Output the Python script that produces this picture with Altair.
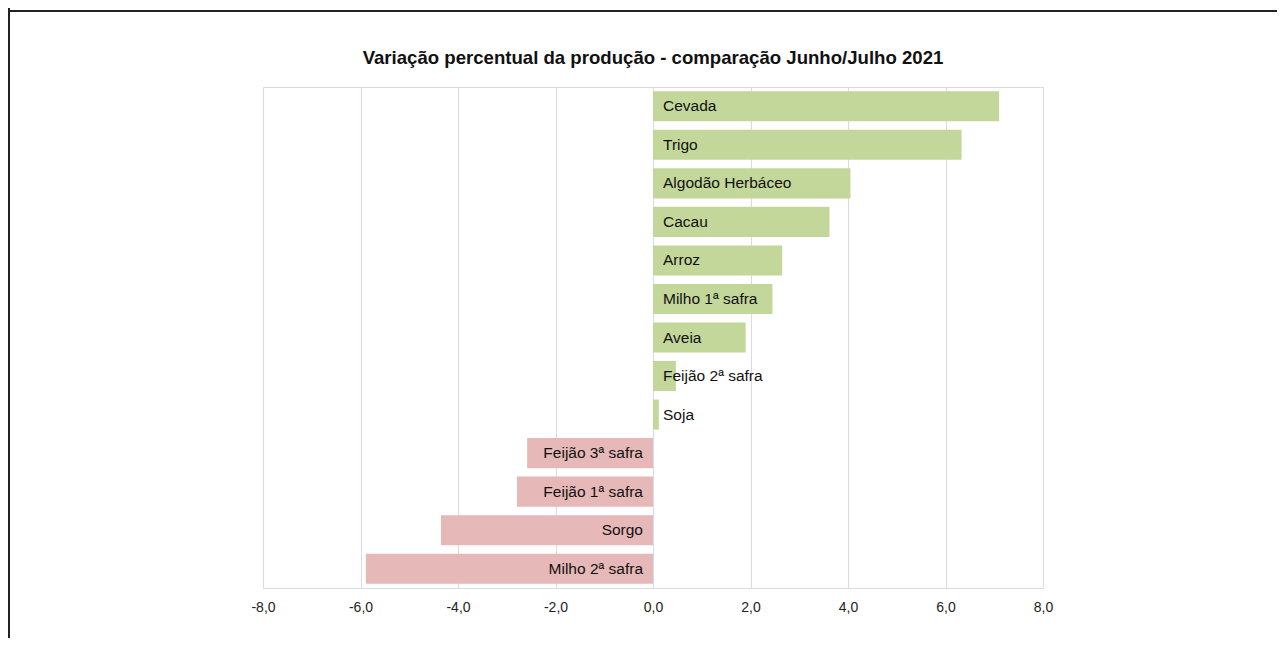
import altair as alt
import pandas as pd

categories = ["Cevada", "Trigo", "Algodão Herbáceo", "Cacau", "Arroz", "Milho 1ª safra",
              "Aveia", "Feijão 2ª safra", "Soja", "Feijão 3ª safra", "Feijão 1ª safra",
              "Sorgo", "Milho 2ª safra"]
values = [7.10, 6.33, 4.05, 3.62, 2.65, 2.45, 1.90, 0.47, 0.12, -2.58, -2.79, -4.35, -5.89]
tick_values = [-8, -6, -4, -2, 0, 2, 4, 6, 8]
title_text = "Variação percentual da produção - comparação Junho/Julho 2021"

df = pd.DataFrame({"cat": categories, "val": values})
df["sign"] = ["pos" if v >= 0 else "neg" for v in values]

FONT = "Liberation Sans"

x_scale = alt.Scale(domain=[-8, 8], nice=False)
y_enc = alt.Y("cat:N", sort=categories, axis=None,
              scale=alt.Scale(paddingInner=0.22, paddingOuter=0.11))

bars = alt.Chart(df).mark_bar().encode(
    x=alt.X("val:Q", scale=x_scale,
            axis=alt.Axis(values=tick_values, title=None, ticks=False, domain=False,
                          labelExpr="replace(replace(format(datum.value, '.1f'), '.', ','), '\u2212', '-')",
                          labelFont=FONT, labelFontSize=14, labelColor="#222",
                          labelFlush=False, labelPadding=12, grid=True, gridColor="#d8d8ee")),
    y=y_enc,
    color=alt.Color("sign:N", scale=alt.Scale(domain=["pos", "neg"],
                                               range=["#c4d79b", "#e6b8b7"]), legend=None),
)

pos_text = alt.Chart(df).transform_filter("datum.val >= 0").transform_calculate(zero="0").mark_text(
    align="left", baseline="middle", dx=10, font=FONT, fontSize=15.5, color="#111"
).encode(x=alt.X("zero:Q", scale=x_scale), y=y_enc, text="cat:N")

neg_text = alt.Chart(df).transform_filter("datum.val < 0").transform_calculate(zero="0").mark_text(
    align="right", baseline="middle", dx=-10, font=FONT, fontSize=15.5, color="#111"
).encode(x=alt.X("zero:Q", scale=x_scale), y=y_enc, text="cat:N")

title = alt.Chart(pd.DataFrame({"t": [title_text]})).mark_text(
    align="center", baseline="middle", font=FONT, fontSize=18.6, fontWeight="bold", color="#111"
).encode(x=alt.value(390), y=alt.value(-29), text="t:N")

frame_h = alt.Chart(df).mark_rule(color="#222", strokeWidth=2).encode(
    x=alt.value(-255), x2=alt.value(1014), y=alt.value(-76))
frame_v = alt.Chart(df).mark_rule(color="#222", strokeWidth=2).encode(
    x=alt.value(-254), y=alt.value(-79), y2=alt.value(560))

chart = alt.layer(bars, pos_text, neg_text, title, frame_h, frame_v).properties(
    width=780, height=501,
    autosize=alt.AutoSizeParams(type="none"),
    padding={"left": 255, "top": 79, "right": 234, "bottom": 50},
).configure_view(stroke="#d9d9d9")

chart.save("out.html", embed_options={"renderer": "svg", "actions": False})
